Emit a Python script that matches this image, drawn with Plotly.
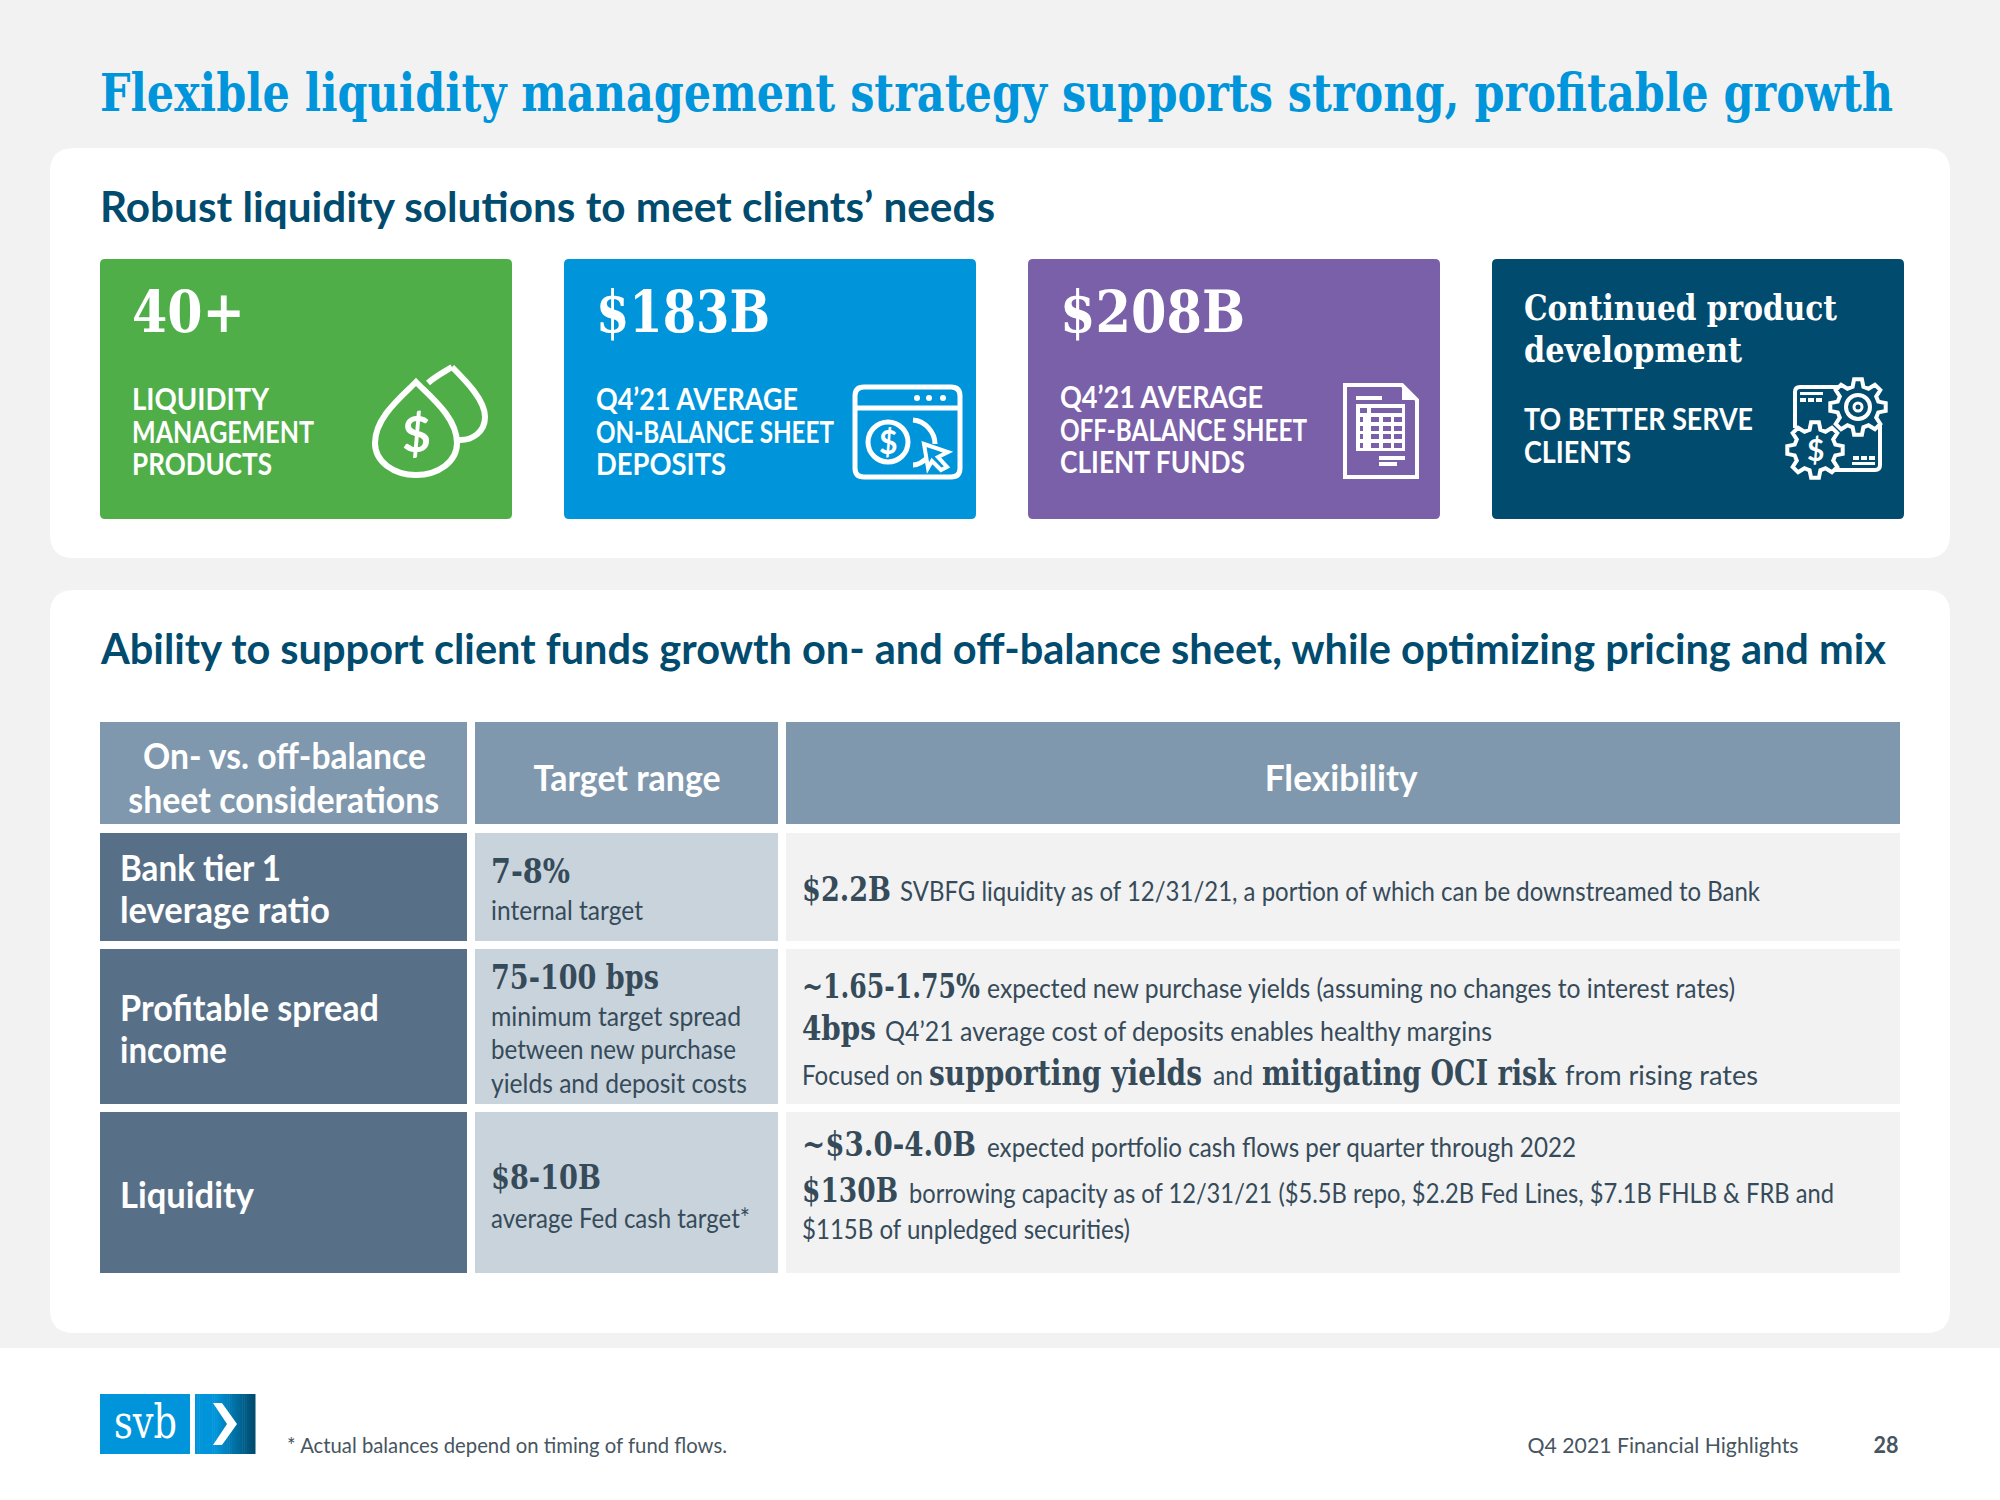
import json
import math
import plotly.graph_objects as go

# ---------- content ----------
TITLE = "Flexible liquidity management strategy supports strong, profitable growth"
SECTION_HEADS = ["Robust liquidity solutions to meet clients’ needs",
                 "Ability to support client funds growth on- and off-balance sheet, while optimizing pricing and mix"]
TILE_BIG = ["40+", "$183B", "$208B"]
TILE_LABELS = [["LIQUIDITY", "MANAGEMENT", "PRODUCTS"],
               ["Q4’21 AVERAGE", "ON-BALANCE SHEET", "DEPOSITS"],
               ["Q4’21 AVERAGE", "OFF-BALANCE SHEET", "CLIENT FUNDS"]]
TILE4_HEAD = ["Continued product", "development"]
TILE4_LABEL = ["TO BETTER SERVE", "CLIENTS"]
TABLE_HEAD = [["On- vs. off-balance", "sheet considerations"], ["Target range"], ["Flexibility"]]
ROW_NAMES = [["Bank tier 1", "leverage ratio"], ["Profitable spread", "income"], ["Liquidity"]]
TARGET_MAIN = ["7-8%", "75-100 bps", "$8-10B"]
TARGET_NOTE = [["internal target"],
               ["minimum target spread", "between new purchase", "yields and deposit costs"],
               ["average Fed cash target*"]]
FLEX_R1 = ["$2.2B", "SVBFG liquidity as of 12/31/21, a portion of which can be downstreamed to Bank"]
FLEX_R2A = ["~1.65-1.75%", "expected new purchase yields (assuming no changes to interest rates)"]
FLEX_R2B = ["4bps", "Q4’21 average cost of deposits enables healthy margins"]
FLEX_R2C = ["Focused on", "supporting yields", "and", "mitigating OCI risk", "from rising rates"]
FLEX_R3A = ["~$3.0-4.0B", "expected portfolio cash flows per quarter through 2022"]
FLEX_R3B = ["$130B", "borrowing capacity as of 12/31/21 ($5.5B repo, $2.2B Fed Lines, $7.1B FHLB & FRB and"]
FLEX_R3C = "$115B of unpledged securities)"
FOOTNOTE = "* Actual balances depend on timing of fund flows."
FOOT_RIGHT = "Q4 2021 Financial Highlights"
PAGE = "28"
LOGO = "svb"

# ---------- style ----------
SLAB = "DejaVu Serif"
SANS = "Lato"
BLUE, GREEN, PURPLE, NAVY = "#0095da", "#4fae48", "#7a60a8", "#004b6e"
HEAD, ROW, TARGET, FLEX = "#7f98ad", "#587087", "#c9d3dc", "#f2f2f2"
INK = "#364b5a"
WHITE = "#ffffff"

shapes, notes, widths = [], [], {}


def rect(x0, y0, x1, y1, fill):
    shapes.append(dict(type="rect", x0=x0, y0=y0, x1=x1, y1=y1, xref="x", yref="y",
                       fillcolor=fill, line=dict(width=0)))


def rr_path(x0, y0, x1, y1, r):
    return (f"M{x0+r},{y0} L{x1-r},{y0} Q{x1},{y0} {x1},{y0+r} L{x1},{y1-r} Q{x1},{y1} {x1-r},{y1} "
            f"L{x0+r},{y1} Q{x0},{y1} {x0},{y1-r} L{x0},{y0+r} Q{x0},{y0} {x0+r},{y0} Z")


def path(d, fill=None, stroke=None, w=0):
    shapes.append(dict(type="path", path=d, xref="x", yref="y",
                       fillcolor=fill if fill else "rgba(0,0,0,0)",
                       line=dict(color=stroke if stroke else "rgba(0,0,0,0)", width=w)))


def text(x, y, s, size, color, font=SANS, bold=False, anchor="left", w=None):
    if w:
        widths[len(notes)] = w
    notes.append(dict(x=x, y=y, xref="x", yref="y", text=s, showarrow=False,
                      xanchor=anchor, yanchor="middle", align=anchor,
                      font=dict(family=font, size=size, color=color, weight=700 if bold else 400),
                      borderpad=0, borderwidth=0))


def circle(cx, cy, r, fill=None, stroke=None, w=0):
    shapes.append(dict(type="circle", x0=cx-r, y0=cy-r, x1=cx+r, y1=cy+r, xref="x", yref="y",
                       fillcolor=fill if fill else "rgba(0,0,0,0)",
                       line=dict(color=stroke if stroke else "rgba(0,0,0,0)", width=w)))


def gear(cx, cy, ro, ri, teeth, fill, stroke, w):
    pts = []
    step = 2 * math.pi / teeth
    for i in range(teeth):
        a = i * step
        for da, r in ((-0.30, ri), (-0.16, ro), (0.16, ro), (0.30, ri)):
            pts.append((cx + r * math.cos(a + da * step * 1.1), cy + r * math.sin(a + da * step * 1.1)))
    path("M" + " L".join(f"{px:.1f},{py:.1f}" for px, py in pts) + " Z", fill, stroke, w)


# ---------- panels ----------
rect(0, 0, 2000, 1348, "#f2f2f2")
rect(0, 1348, 2000, 1500, WHITE)
path(rr_path(50, 148, 1950, 558, 24), WHITE)
path(rr_path(50, 590, 1950, 1333, 24), WHITE)

text(100, 92, TITLE, 52, BLUE, SLAB, True, w=1793)
text(100, 206, SECTION_HEADS[0], 42, NAVY, SANS, True, w=895)
text(100, 648, SECTION_HEADS[1], 42, NAVY, SANS, True, w=1785)

# ---------- tiles ----------
tile_x = [100, 564, 1028, 1492]
for x, c in zip(tile_x, (GREEN, BLUE, PURPLE, NAVY)):
    path(rr_path(x, 259, x + 412, 519, 5), c)
big_w = (113, 174, 185)
label_w = ((137, 182, 140), (202, 238, 130), (203, 247, 185))
for i, big in enumerate(TILE_BIG):
    text(tile_x[i] + 32, 312, big, 58, WHITE, SLAB, True, w=big_w[i])
    ys = [398, 431, 463] if i < 2 else [396, 429, 461]
    for y, line, wd in zip(ys, TILE_LABELS[i], label_w[i]):
        text(tile_x[i] + 32, y, line, 31, WHITE, SANS, True, w=wd)
for y, line, wd in zip((307, 349), TILE4_HEAD, (313, 218)):
    text(1524, y, line, 36, WHITE, SLAB, True, w=wd)
for y, line, wd in zip((418, 451), TILE4_LABEL, (229, 107)):
    text(1524, y, line, 31, WHITE, SANS, True, w=wd)

# icon: droplets
path("M452,367 C466,381 485,400 485,417 C485,432 472,441 458,440", None, WHITE, 6)
path("M428,383 C436,376 444,372 452,367", None, WHITE, 6)
path("M416,382 C432,398 457,418 457,443 C457,462 438,475 416,475 C394,475 375,462 375,443 "
     "C375,418 400,398 416,382 Z", None, WHITE, 6)
text(416, 433, "$", 50, WHITE, SANS, True, "center")

# icon: browser with coin
path(rr_path(855, 387, 960, 477, 9), None, WHITE, 5)
path("M855,408 L960,408", None, WHITE, 5)
for cx in (917, 929, 943):
    circle(cx, 398, 3, WHITE)
circle(888, 442, 20, None, WHITE, 5)
text(888, 441, "$", 32, WHITE, SANS, True, "center")
path("M913,420 C925,421 935,432 935,444", None, WHITE, 5)
path("M913,465 C919,465 924,461 928,457", None, WHITE, 5)
path("M924,444 L948,452 L938,457 L947,467 L941,470 L932,461 L928,468 Z", BLUE, WHITE, 4)

# icon: spreadsheet document
path("M1345,385 L1402,385 L1417,400 L1417,477 L1345,477 Z", None, WHITE, 4)
path("M1402,385 L1402,400 L1417,400 Z", WHITE)
rect(1356, 396, 1382, 400, WHITE)
rect(1356, 404, 1405, 451, WHITE)
rect(1360, 408, 1367, 413, PURPLE)
rect(1371, 408, 1402, 413, PURPLE)
for row_top in (417, 426, 434, 443):
    rect(1360, row_top, 1363, row_top + 5, PURPLE)
    for col_left in (1371, 1383, 1394):
        rect(col_left, row_top, col_left + 8, row_top + 5, PURPLE)
rect(1379, 456, 1405, 460, WHITE)
rect(1379, 462, 1397, 466, WHITE)

# icon: gears
path("M1842,387 L1800,387 Q1795,387 1795,392 L1795,428", None, WHITE, 4)
path("M1880,425 L1880,465 Q1880,470 1875,470 L1835,470", None, WHITE, 4)
rect(1800, 392, 1823, 395, WHITE)
for dx in (1800, 1808, 1816):
    rect(dx, 398, dx + 6, 402, WHITE)
rect(1852, 462, 1875, 465, WHITE)
for dx in (1853, 1861, 1869):
    rect(dx, 456, dx + 6, 460, WHITE)
gear(1858, 407, 28, 21, 8, NAVY, WHITE, 4)
circle(1858, 407, 12, None, WHITE, 4)
circle(1858, 407, 4, None, WHITE, 3)
gear(1815, 450, 28, 21, 8, NAVY, WHITE, 4)
text(1815, 449, "$", 30, WHITE, SANS, True, "center")

# ---------- table ----------
col = [(100, 467), (475, 778), (786, 1900)]
head_y = (722, 824)
rows_y = [(833, 941), (949, 1104), (1112, 1273)]
for (a, b) in col:
    rect(a, head_y[0], b, head_y[1], HEAD)
for (t, b) in rows_y:
    rect(col[0][0], t, col[0][1], b, ROW)
    rect(col[1][0], t, col[1][1], b, TARGET)
    rect(col[2][0], t, col[2][1], b, FLEX)

for y, line, wd in zip((754, 798), TABLE_HEAD[0], (283, 311)):
    text(284, y, line, 37, WHITE, SANS, True, "center", w=wd)
text(627, 776, TABLE_HEAD[1][0], 37, WHITE, SANS, True, "center", w=187)
text(1341, 776, TABLE_HEAD[2][0], 37, WHITE, SANS, True, "center", w=153)

name_w = ((161, 210), (259, 107), (134,))
for ys, lines, wds in zip(((866, 908), (1006, 1048), (1193,)), ROW_NAMES, name_w):
    for y, line, wd in zip(ys, lines, wds):
        text(120, y, line, 37, WHITE, SANS, True, w=wd)

for y, s, wd in zip((871, 977, 1177), TARGET_MAIN, (79, 168, 110)):
    text(491, y, s, 34, INK, SLAB, True, w=wd)
note_w = ((152,), (250, 245, 256), (259,))
for ys, lines, wds in zip(((909,), (1015, 1048, 1082), (1217,)), TARGET_NOTE, note_w):
    for y, line, wd in zip(ys, lines, wds):
        text(491, y, line, 27, INK, w=wd)

text(802, 889, FLEX_R1[0], 33, INK, SLAB, True, w=89)
text(900, 890, FLEX_R1[1], 27, INK, w=860)
text(802, 986, FLEX_R2A[0], 33, INK, SLAB, True, w=178)
text(987, 987, FLEX_R2A[1], 27, INK, w=748)
text(802, 1028, FLEX_R2B[0], 33, INK, SLAB, True, w=74)
text(885, 1030, FLEX_R2B[1], 27, INK, w=607)
r2c_x = (802, 929, 1213, 1262, 1565)
r2c_w = (121, 273, 40, 294, 193)
r2c_b = (False, True, False, True, False)
for x, s, wd, is_bold in zip(r2c_x, FLEX_R2C, r2c_w, r2c_b):
    if is_bold:
        text(x, 1072, s, 36, INK, SLAB, True, w=wd)
    else:
        text(x, 1074, s, 27, INK, w=wd)
text(802, 1144, FLEX_R3A[0], 33, INK, SLAB, True, w=174)
text(987, 1146, FLEX_R3A[1], 27, INK, w=589)
text(802, 1190, FLEX_R3B[0], 33, INK, SLAB, True, w=96)
text(909, 1192, FLEX_R3B[1], 27, INK, w=925)
text(802, 1228, FLEX_R3C, 27, INK, w=328)

# ---------- footer ----------
rect(100, 1394, 190, 1454, BLUE)
text(145, 1422, LOGO, 46, WHITE, SLAB, False, "center", w=63)
logo_steps = 28
for i in range(logo_steps):
    t = i / (logo_steps - 1)
    k = max(0.0, (t - 0.35) / 0.65)
    c0, c1 = (0, 149, 218), (0, 75, 110)
    color = "rgb(%d,%d,%d)" % tuple(round(p + (q - p) * k) for p, q in zip(c0, c1))
    rect(195 + i * 60 / logo_steps, 1394, 195 + (i + 1) * 60 / logo_steps + 0.5, 1454, color)
path("M213,1403 L222,1403 L237,1424 L222,1445 L213,1445 L227,1424 Z", WHITE)

text(287, 1444, FOOTNOTE, 22, "#46555f", w=440)
text(1798, 1444, FOOT_RIGHT, 22, "#46555f", SANS, False, "right", w=271)
text(1899, 1444, PAGE, 22, "#46555f", SANS, True, "right", w=25)

fig = go.Figure()
fig.update_layout(
    width=2000, height=1500, margin=dict(l=0, r=0, t=0, b=0),
    paper_bgcolor="#f2f2f2", plot_bgcolor="#f2f2f2", showlegend=False,
    xaxis=dict(range=[0, 2000], visible=False, fixedrange=True),
    yaxis=dict(range=[1500, 0], visible=False, fixedrange=True),
    shapes=shapes, annotations=notes,
)
post = """
document.body.style.margin='0';
document.documentElement.style.overflow='hidden';
var fit = %s;
document.querySelectorAll('.annotation').forEach(function(a){
  var w = fit[a.getAttribute('data-index')];
  var t = a.querySelector('text');
  if (w && t) { t.setAttribute('textLength', w); t.setAttribute('lengthAdjust', 'spacingAndGlyphs'); }
});
""" % json.dumps(widths)
fig.write_html("out.html", config=dict(displayModeBar=False), post_script=post)
